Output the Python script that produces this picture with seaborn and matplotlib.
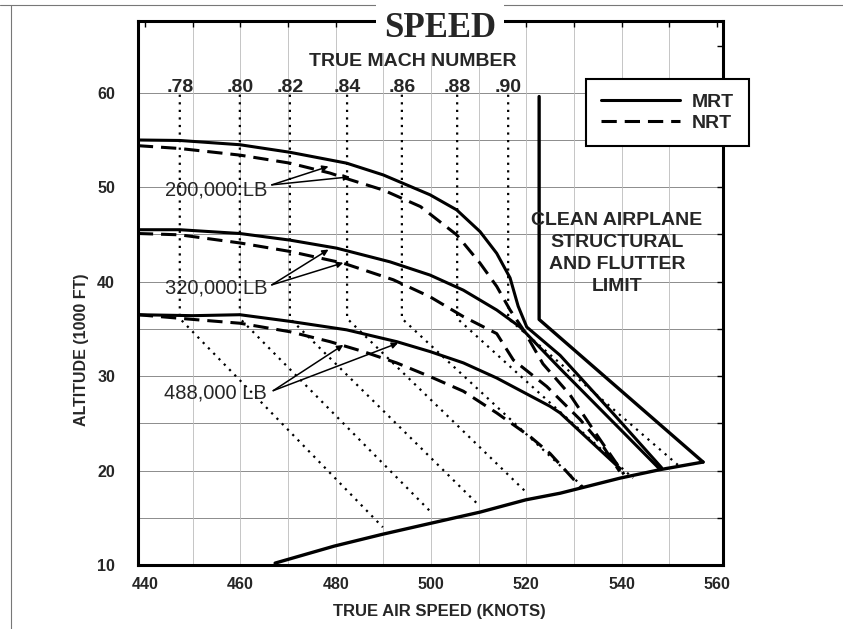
import numpy as np
import pandas as pd
import matplotlib
matplotlib.use('Agg')
import matplotlib.pyplot as plt
import seaborn as sns
from matplotlib.lines import Line2D
from matplotlib.ticker import MultipleLocator

# --- values: true air speed (knots), altitude (1000 ft) ---
w200_mrt_kt = [438.5, 447.3, 459.9, 470.4, 482.3, 490.0, 499.8, 505.4, 510.3, 513.8, 516.6, 518.3, 520.1, 527.1, 538.3, 548.4]
w200_mrt_alt = [55.0, 54.95, 54.5, 53.7, 52.55, 51.3, 49.2, 47.6, 45.3, 43.0, 40.4, 37.4, 35.2, 32.2, 26.0, 20.3]
w200_nrt_kt = [438.5, 447.3, 459.9, 470.4, 478.8, 483.0, 490.0, 497.8, 505.4, 510.3, 513.8, 516.6, 519.4, 523.5, 529.2, 534.5, 540.5]
w200_nrt_alt = [54.4, 54.1, 53.4, 52.55, 51.5, 50.8, 49.7, 47.95, 44.96, 41.96, 39.5, 37.0, 34.9, 31.3, 28.0, 24.0, 19.6]

w320_mrt_kt = [438.5, 447.3, 459.9, 470.4, 480.2, 491.4, 499.8, 506.8, 513.8, 518.7, 527.1, 548.1]
w320_mrt_alt = [45.5, 45.5, 45.1, 44.4, 43.55, 42.1, 40.7, 39.1, 37.0, 35.2, 30.8, 20.1]
w320_nrt_kt = [438.5, 447.3, 459.9, 470.4, 481.6, 492.1, 499.8, 506.8, 513.8, 517.3, 524.3, 531.3, 536.2, 539.6]
w320_nrt_alt = [45.1, 44.96, 44.1, 43.2, 41.96, 40.2, 38.4, 36.3, 34.5, 31.7, 28.9, 25.4, 22.5, 19.9]

w488_mrt_kt = [438.5, 450.1, 459.9, 470.4, 482.3, 492.8, 499.8, 506.8, 513.8, 525.0, 527.1, 539.7]
w488_mrt_alt = [36.5, 36.4, 36.5, 35.8, 34.9, 33.65, 32.6, 31.4, 29.8, 26.8, 26.1, 20.2]
w488_nrt_kt = [438.5, 450.1, 459.9, 470.4, 478.8, 485.8, 492.8, 499.8, 506.8, 513.8, 520.8, 525.0, 531.5]
w488_nrt_alt = [36.5, 36.0, 35.6, 34.7, 33.65, 32.6, 31.4, 29.95, 28.4, 26.1, 23.6, 21.8, 18.2]

# structural / flutter limit and lower boundary
limit_kt = [522.7, 522.7, 557.1]
limit_alt = [59.6, 36.0, 20.9]
lower_kt = [467.3, 479.7, 489.8, 499.8, 510.3, 519.9, 527.1, 539.7, 548.1, 557.1]
lower_alt = [10.2, 12.0, 13.25, 14.4, 15.6, 16.9, 17.6, 19.2, 20.1, 20.9]

# constant true Mach lines: vertical above the break, then slanted down to the boundary
mach_labels = ['.78', '.80', '.82', '.84', '.86', '.88', '.90']
mach_top_kt = [447.3, 459.9, 470.4, 482.4, 493.9, 505.5, 516.2]
mach_end_kt = [489.9, 500.2, 509.9, 520.2, 532.5, 542.4, 551.8]
mach_end_alt = [14.0, 15.5, 16.4, 17.6, 18.0, 19.2, 20.6]
mach_top_alt = 59.8
mach_break_alt = 36.1

# weight labels and their arrows
weight_labels = ['200,000 LB', '320,000 LB', '488,000 LB']
label_alt = [49.1, 38.8, 27.66]
arrow_from = [(466.6, 50.25), (466.6, 39.66), (466.9, 28.46)]
arrow_to = [[(478.5, 52.2), (483.0, 51.1)],
            [(478.5, 43.4), (481.6, 42.0)],
            [(481.6, 33.3), (493.1, 33.5)]]

sns.set_style('white')
plt.rcParams['font.family'] = ['Liberation Sans', 'DejaVu Sans']
plt.rcParams['font.weight'] = 'bold'
plt.rcParams['axes.labelweight'] = 'bold'

fig = plt.figure(figsize=(8.43, 6.29), dpi=100)
ax = fig.add_axes([138 / 843, 1 - 565 / 629, 585 / 843, 544 / 629])

# grid
for y in range(15, 61, 5):
    ax.axhline(y, color='#8c8c8c', lw=0.7, zorder=0)
for x in range(450, 551, 10):
    ax.axvline(x, color='#bcbcbc', lw=0.6, zorder=0)

DASH = (0, (5, 2.6))
DOT = (0, (1, 2.4))

curves = [
    (w200_mrt_kt, w200_mrt_alt, '-'),
    (w200_nrt_kt, w200_nrt_alt, DASH),
    (w320_mrt_kt, w320_mrt_alt, '-'),
    (w320_nrt_kt, w320_nrt_alt, DASH),
    (w488_mrt_kt, w488_mrt_alt, '-'),
    (w488_nrt_kt, w488_nrt_alt, DASH),
]
for kt, alt, ls in curves:
    sns.lineplot(x=kt, y=alt, ax=ax, sort=False, estimator=None, color='black',
                 lw=2.2, linestyle=ls, legend=False)

sns.lineplot(x=limit_kt, y=limit_alt, ax=ax, sort=False, estimator=None, color='black', lw=2.4)
sns.lineplot(x=lower_kt, y=lower_alt, ax=ax, sort=False, estimator=None, color='black', lw=2.4)

for lab, top, ek, ea in zip(mach_labels, mach_top_kt, mach_end_kt, mach_end_alt):
    sns.lineplot(x=[top, top, ek], y=[mach_top_alt, mach_break_alt, ea], ax=ax, sort=False,
                 estimator=None, color='black', lw=1.6, linestyle=DOT)
    ax.text(top, 60.1, lab, ha='center', va='baseline', fontsize=14)

ax.text(496.2, 62.8, 'TRUE MACH NUMBER', ha='center', va='baseline', fontsize=14)

for lab, ya, p0, tips in zip(weight_labels, label_alt, arrow_from, arrow_to):
    ax.text(465.6, ya, lab, ha='right', va='baseline', fontsize=14.5, fontweight='normal')
    for tip in tips:
        ax.annotate('', xy=tip, xytext=p0,
                    arrowprops=dict(arrowstyle='-|>', color='black', lw=1.1,
                                    mutation_scale=9, shrinkA=0, shrinkB=0))

ax.text(539.0, 43.0, 'CLEAN AIRPLANE\nSTRUCTURAL\nAND FLUTTER\nLIMIT', ha='center', va='center',
        multialignment='center', fontsize=14, linespacing=1.4)

ax.set_xlim(438.53, 561.28)
ax.set_ylim(10, 67.6)
ax.set_xticks(range(440, 561, 20))
ax.set_yticks(range(10, 61, 10))
ax.xaxis.set_minor_locator(MultipleLocator(10))
ax.yaxis.set_minor_locator(MultipleLocator(5))
ax.tick_params(which='both', direction='in', length=4, width=1, top=True, right=True, color='black')
ax.tick_params(axis='x', labelsize=11.5, pad=8.3)
ax.tick_params(axis='y', labelsize=11.5, pad=16.5)
for s in ax.spines.values():
    s.set_linewidth(2.2)
    s.set_color('black')

ax.set_xlabel('TRUE AIR SPEED (KNOTS)', fontsize=12)
ax.set_ylabel('ALTITUDE (1000 FT)', fontsize=11.5)
ax.xaxis.set_label_coords(0.5145, -0.0717)
ax.yaxis.set_label_coords(-0.0846, 0.395)

handles = [Line2D([], [], color='black', lw=2.2),
           Line2D([], [], color='black', lw=2.2, linestyle=DASH)]
leg = ax.legend(handles, ['MRT', 'NRT'], loc='upper left', bbox_to_anchor=(586 / 843, 1 - 79 / 629),
                bbox_transform=fig.transFigure, frameon=True, fancybox=False, framealpha=1,
                edgecolor='black', borderpad=0.75, borderaxespad=0, handlelength=4.1,
                handletextpad=0.6, labelspacing=0.15, prop={'weight': 'bold', 'size': 14})
leg.get_frame().set_linewidth(1.5)

fig.text(440 / 843, 1 - 37 / 629, 'SPEED', family='Liberation Serif', weight='bold', size=25,
         ha='center', va='baseline', bbox=dict(facecolor='white', edgecolor='none', pad=6))

# scanned page edges
fig.add_artist(Line2D([0, 1], [1 - 5 / 629] * 2, transform=fig.transFigure, color='#777777', lw=0.8))
fig.add_artist(Line2D([11 / 843] * 2, [0, 1 - 5 / 629], transform=fig.transFigure, color='#777777', lw=0.8))

fig.savefig('out.png', dpi=100)
